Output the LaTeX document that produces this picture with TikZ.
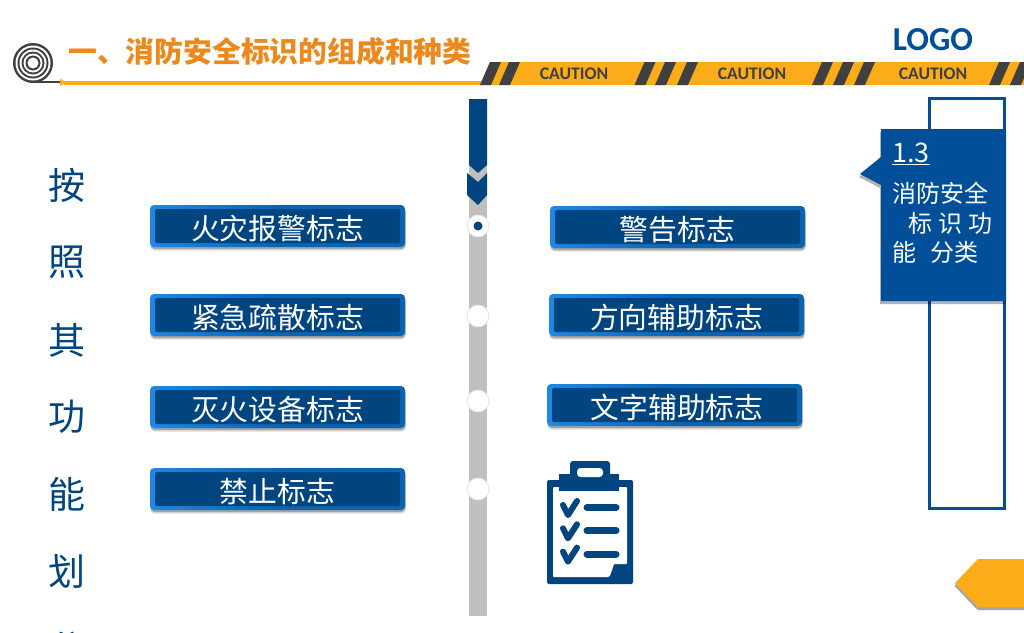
\documentclass[tikz,border=0pt]{standalone}
\usepackage{fontspec}
\setmainfont{Noto Sans CJK SC}
\newfontfamily\capfont{Carlito}
\usetikzlibrary{shadows}
\definecolor{navy}{HTML}{00457F}
\definecolor{bluex}{HTML}{004F98}
\definecolor{edgeb}{HTML}{0A64B4}
\definecolor{edgel}{HTML}{1E88E5}
\definecolor{amber}{HTML}{FBAC18}
\definecolor{titleor}{HTML}{EC891D}
\definecolor{ink}{HTML}{404040}
\definecolor{railg}{HTML}{BFBFBF}
\newcommand{\fs}[1]{\fontsize{#1}{#1}\selectfont}
\newcommand{\btnbox}[4]{%
  \node[btnouter] (#1) at (#2,#3) {};
  \node[btninner] (#1t) at (#1.center) {#4};
}
\newcommand{\stripe}[1]{\fill[ink] (#1,85) -- ++(10,-23) -- ++(11,0) -- ++(-10,23) -- cycle;}
\tikzset{
  x=1pt,y=-1pt,
  softshadow/.style={
    drop shadow={shadow xshift=.5pt,shadow yshift=-3.5pt,opacity=.14,fill=black},
    drop shadow={shadow xshift=.5pt,shadow yshift=-2pt,opacity=.25,fill=black}},
  btnouter/.style={draw=none,rounded corners=4pt,minimum width=255pt,minimum height=42pt,inner sep=0pt,softshadow,
    left color=edgel,right color=edgeb,middle color=edgeb},
  btninner/.style={fill=navy,rounded corners=2pt,text=white,minimum width=245pt,minimum height=34pt,inner sep=0pt,font=\fs{28.8},text height=28pt,text depth=1.3pt},
  sidechar/.style={text=navy,font=\fs{37},inner sep=0pt},
  captext/.style={text=ink,font=\capfont\bfseries\fs{17.7},inner sep=0pt},
  railcircle/.style={circle,fill=white,draw=white!90!black,line width=.8pt,minimum size=22pt,inner sep=0pt},
  paneltext/.style={text=white,font=\fs{24},inner sep=0pt,anchor=base west},
  iconline/.style={line width=7pt,navy,line cap=round},
  iconcheck/.style={line width=6pt,navy,line cap=round,line join=round},
}
\begin{document}
\begin{tikzpicture}
\useasboundingbox (0,0) rectangle (1024,632);
\clip (0,0) rectangle (1024,632);
\fill[white] (0,0) rectangle (1024,632);
% hose
\fill[ink] (33,63) circle (20);
\fill[white] (33,63) circle (17.5);
\fill[ink] (33,63) circle (15.5);
\fill[white] (33,63) circle (13.5);
\fill[ink] (33,63) circle (11.5);
\fill[white] (33,63) circle (9.5);
\fill[ink] (33,63) circle (7.5);
\fill[white] (33,63) circle (5.5);
\draw[ink,line width=2pt] (33,82) -- (62,82);
\fill[amber] (60,78.5) -- (66,82.5) -- (60,86) -- cycle;
\fill[amber] (64,81) rectangle (490,85);
% title
\node[text=titleor,font=\fs{28.8}\bfseries,inner sep=0pt,anchor=west] (title) at (68,52) {一、消防安全标识的组成和种类};
% caution band
\fill[amber] (490,62) -- (1024,62) -- (1024,85) -- (480,85) -- cycle;
\stripe{480}\stripe{499}
\stripe{634.5}\stripe{655}\stripe{677}
\stripe{812}\stripe{833}\stripe{854}
\stripe{989}\stripe{1010}
\node[captext] (cap1) at (574,73.5) {CAUTION};
\node[captext] (cap2) at (752,73.5) {CAUTION};
\node[captext] (cap3) at (933,73.5) {CAUTION};
\node[text=bluex,font=\capfont\bfseries\fs{33.5},inner sep=0pt] (logo) at (933,40) {LOGO};
% side text
\node[sidechar] (s1) at (67,185) {按};
\node[sidechar] (s2) at (67,262) {照};
\node[sidechar] (s3) at (67,340) {其};
\node[sidechar] (s4) at (67,417) {功};
\node[sidechar] (s5) at (67,494) {能};
\node[sidechar] (s6) at (67,571) {划};
\node[sidechar] (s7) at (67,649) {分};
% rail
\fill[railg] (469,160) rectangle (487,616);
\fill[navy] (469,99) -- (487,99) -- (487,165) -- (478,173) -- (469,165) -- cycle;
\fill[navy] (467,173) -- (478,182) -- (487,173) -- (487,195) -- (478,205) -- (467,195) -- cycle;
\node[railcircle] (c1) at (478,226) {};
\fill[navy] (c1.center) circle (4.5);
\node[railcircle] (c2) at (478,316) {};
\node[railcircle] (c3) at (478,401) {};
\node[railcircle] (c4) at (478,489) {};
% buttons
\btnbox{l1}{277.5}{226}{火灾报警标志}
\btnbox{l2}{277.5}{315}{紧急疏散标志}
\btnbox{l3}{277.5}{407}{灭火设备标志}
\btnbox{l4}{277.5}{489}{禁止标志}
\btnbox{r1}{677.5}{227}{警告标志}
\btnbox{r2}{676.5}{315}{方向辅助标志}
\btnbox{r3}{674.5}{405}{\hspace{5pt}文字辅助标志}
% right panel
\draw[bluex,line width=2.5pt,fill=white] (929.5,98.5) rectangle (1004.5,508.5);
\fill[bluex,drop shadow={shadow xshift=-1pt,shadow yshift=-3pt,opacity=.3,fill=black}]
  (881,129) -- (1006,129) -- (1006,301) -- (881,301) -- (881,185) -- (860,174) -- (881,157) -- cycle;
\node[paneltext,font=\fs{27}] (p0) at (892,162) {\underline{1.3}};
\node[paneltext] (p1) at (892,202) {消防安全};
\node[paneltext] (p2) at (892,232) {\hspace{16pt}标\hspace{6pt}识\hspace{6pt}功};
\node[paneltext] (p3) at (892,261) {能\hspace{14pt}分类};
% clipboard icon
\fill[navy,rounded corners=2pt] (547,480) rectangle (633,584);
\fill[white,rounded corners=1pt] (553,487) -- (627,487) -- (627,564) -- (614,564) .. controls (612,570) and (611,574) .. (609,577) -- (553,577) -- cycle;
\fill[navy] (559,474) rectangle (619,491);
\fill[navy,rounded corners=3pt] (570,461) rectangle (610,480);
\fill[white,rounded corners=3.5pt] (577,468) rectangle (603,477);
\foreach \r in {0,23.3,46.6}{
  \draw[iconcheck] (563,505+\r) -- (568,515+\r) -- (577,501+\r);
  \draw[iconline] (587,507.5+\r) -- (616,507.5+\r);
}
% arrow tab
\fill[amber,drop shadow={shadow xshift=-.5pt,shadow yshift=-3pt,opacity=.35,fill=black}]
  (955,583) -- (978,559) -- (1030,559) -- (1030,607) -- (978,607) -- cycle;
\end{tikzpicture}
\end{document}
